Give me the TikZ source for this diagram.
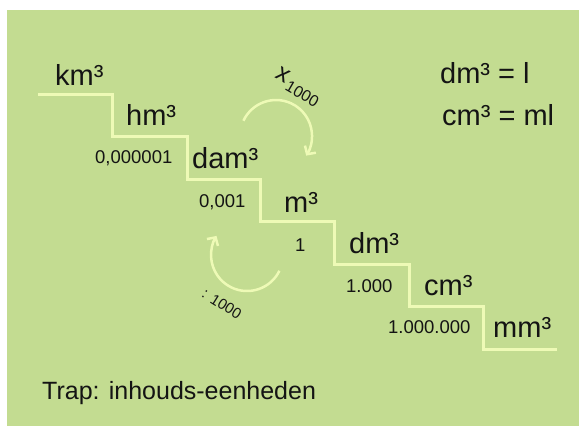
\documentclass[tikz,border=0pt]{standalone}
\usepackage{fontspec}
\setmainfont{Liberation Sans}
\usetikzlibrary{arrows.meta}
\definecolor{bg}{HTML}{C3DC91}
\definecolor{stairc}{HTML}{EEFAB6}
\definecolor{ink}{HTML}{141414}
\begin{document}
\begin{tikzpicture}[x=1pt,y=-1pt,
  unit/.style={anchor=base west,inner sep=0pt,font=\fontsize{29}{29}\selectfont,text=ink},
  num/.style={anchor=base west,inner sep=0pt,font=\fontsize{18.5}{18.5}\selectfont,text=ink},
  stair/.style={draw=stairc,line width=3pt},
  turn/.style={draw=stairc,line width=2.5pt,-{Straight Barb[length=6pt,width=13pt]}}]
\useasboundingbox (0,0) rectangle (579,426);
\fill[bg] (7,10) rectangle (579,426);
% staircase
\draw[stair] (38,94) -- (112.5,94) -- (112.5,136.5) -- (187,136.5) -- (187,179)
  -- (260,179) -- (260,221.5) -- (334,221.5) -- (334,264) -- (409,264)
  -- (409,306.5) -- (483,306.5) -- (483,349) -- (557,349);
% units
\node[unit] (km) at (55,85) {km³};
\node[unit] (hm) at (126,125) {hm³};
\node[unit] (dam) at (192,168) {dam³};
\node[unit] (m) at (284,212) {m³};
\node[unit] (dm) at (349,253) {dm³};
\node[unit] (cm) at (424,295) {cm³};
\node[unit] (mm) at (493,337) {mm³};
% numbers
\node[num] (n1) at (95,163) {0,000001};
\node[num] (n2) at (199,207) {0,001};
\node[num] (n3) at (295,251) {1};
\node[num] (n4) at (346,292) {1.000};
\node[num] (n5) at (388,333) {1.000.000};
% equivalences
\node[unit] (eq1) at (440,83) {dm³ = l};
\node[unit] (eq2) at (442,125) {cm³ = ml};
% title
\node[anchor=base west,inner sep=0pt,font=\fontsize{25}{25}\selectfont,text=ink] (title) at (42,399) {Trap: inhouds-eenheden};
% turning arrows
\draw[turn] (243.4,120.8) arc[start angle=205,end angle=393,radius=36];
\draw[turn] (279.4,270.8) arc[start angle=26,end angle=212,radius=36];
\node[rotate=-30,inner sep=0pt,text=ink,font=\fontsize{25}{25}\selectfont] (times) at (298,87)
  {x\hspace{2pt}\raisebox{-6pt}{\fontsize{16}{16}\selectfont 1000}};
\node[rotate=-32,inner sep=0pt,text=ink,font=\fontsize{15}{15}\selectfont] (div) at (222,304) {: 1000};
\end{tikzpicture}
\end{document}
